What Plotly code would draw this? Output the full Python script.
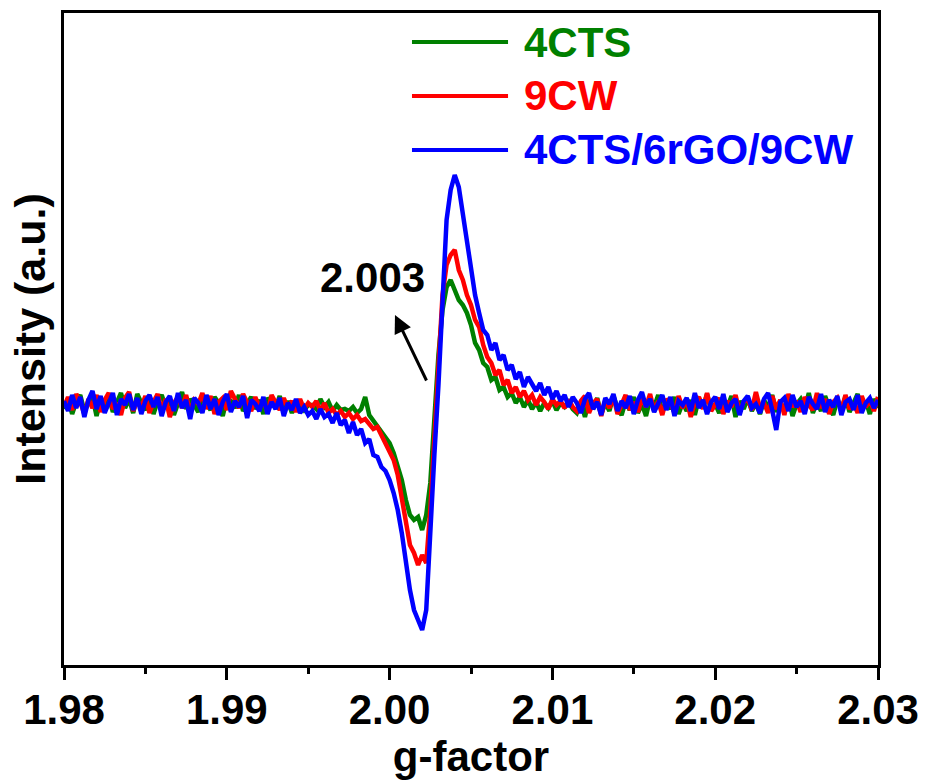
import numpy as np
import plotly.graph_objects as go

# g-factor grid: 1.980 -> 2.030 in steps of 0.00025 (201 points)
g_start, g_stop, n_pts = 1.98, 2.03, 201
g = np.linspace(g_start, g_stop, n_pts)

cts4 = [-4, 6, -9, 3, 10, -6, 2, 8, -11, 5, 1, 9, -7, 4, 12, -3, 6, -8, 11, 2,
        -5, 7, -9, 4, 10, -2, 5, -10, 3, 13, -4, 6, 0, -7, 9, 3, -5, 8, 2, -11,
        6, 4, -3, 10, -6, 1, 8, -4, 5, -9, 7, 2, -3, 9, -6, 4, -8, 3, 1, -5, 0,
        0, -4, 6, -2, 3, -6, 0, -5, -4, -6, -2, -8, -4, 8, -10,
        -16, -22, -28, -32, -38, -48, -60, -75, -95, -110, -115, -112, -125, -110, -78,
        -15, 50, 95, 118, 125, 115, 105, 100, 92, 80, 62, 55, 42, 38, 25,
        28, 15, 18, 8, 12, 2, 8, -2, 5, -4, 3, -6, 2, -3, 4, -5, 2, -2, 3, -4,
        -8, 3, -12, 5, -4, 7, -9, 2, -6, 9, -3, -10, 4, -5, 8, -8, 1, -11, 6, -2,
        10, -7, 3, -4, 8, -9, 2, -6, 5, -10, 7, -3, 11, -5, 1, -8, 6, -2, 9, -12,
        4, -4, 7, -6, 2, -9, 5, -3, 10, -7, 3, -5, 8, -11, 1, 6, -4, 12, -8, 3,
        -6, 9, -2, -10, 5, -4, 8, -7, 2, 11, -5, 4, -9, 6, -3]

cw9 = [-2, 8, -5, 11, 3, -9, 6, -3, 10, -7, 5, 12, -4, 2, -10, 7, 13, -6, 4, -2,
       9, -8, 3, 11, -5, 6, -12, 2, 8, -3, 10, -7, 5, 1, 12, -4, 9, -9, 3, 7,
       -5, 14, 6, -3, 11, 2, -6, 8, -2, 5, -8, 10, 3, -5, 7, -3, 4, -7, 6, -4, 2,
       -2, 4, -6, 2, -8, -4, -10, -6, -12, -8, -14, -10, -16, -14, -20,
       -24, -22, -30, -38, -45, -55, -70, -92, -115, -140, -148, -160, -150, -158, -105,
       -30, 40, 110, 140, 150, 155, 135, 125, 110, 100, 85, 78, 60, 48, 42,
       30, 35, 20, 25, 12, 18, 8, 14, 5, 10, 0, 8, 3, -4, 6, 0, 4, -3, 5, -2,
       -6, 4, 9, -8, 2, 6, -11, 5, -3, 8, -9, 1, 10, -5, 3, -7, 7, -2, 11, -6,
       4, -10, 6, 2, -8, 9, -3, 5, -12, 3, 8, -4, 12, -6, 1, 7, -9, 4, -2, 10,
       -7, 3, 6, -5, 13, -3, 2, -8, 9, -4, 5, -10, 11, -2, 4, -7, 8, 0, -5, 12,
       -3, 6, -9, 3, 7, -6, 10, -4, 2, -8, 9, -2, 5, -6, 8]

composite = [4, -6, 10, -3, 8, -12, 5, 14, -4, 9, -8, 3, 12, -10, 6, 0, 11, -5, 7, -9,
             4, 10, -2, 8, -11, 3, 9, -6, 12, -3, 5, -14, 7, 2, -8, 10, -4, 6, -10, 3,
             11, -7, 4, -2, 9, -13, 5, 1, -6, 8, -9, 3, -4, 7, -11, 2, -5, 6, -8, -2, -10,
             -6, -14, -4, -12, -9, -18, -8, -20, -15, -28, -17, -30, -24, -38, -34,
             -50, -52, -62, -66, -75, -88, -105, -128, -160, -185, -205, -215, -225, -205, -120,
             -50, 20, 110, 185, 215, 230, 218, 190, 160, 138, 110, 92, 75, 70, 55,
             62, 45, 50, 35, 40, 26, 33, 18, 28, 20, 14, 22, 10, 18, 6, 14, 4, 10, -2, 8,
             2, -8, 6, 12, -4, 3, -10, 7, 1, 11, -6, 4, -3, 9, -9, 5, 13, -2, 6, -7,
             2, 10, -5, 8, -11, 4, 0, 7, -6, 12, -3, 5, -9, 3, 8, -4, 11, -7, 2, 6,
             -10, 4, 9, -3, 1, -8, 6, 12, -5, -25, 3, 7, -6, 10, -2, 4, -9, 8, 1, -4,
             11, -7, 5, -2, 9, -10, 3, 6, -5, 10, -8, 2, 7, -3, 5]

series_names = ["4CTS", "9CW", "4CTS/6rGO/9CW"]
series_values = [cts4, cw9, composite]
series_colors = ["#008000", "#ff0000", "#0000ff"]

x_ticks = [1.98, 1.99, 2.00, 2.01, 2.02, 2.03]
x_tick_labels = ["1.98", "1.99", "2.00", "2.01", "2.02", "2.03"]

# annotation: arrow near the zero-crossing
g_label = "2.003"
arrow_tail = (2.00231, 23)
arrow_tip = (2.00033, 90)
label_pos = (1.99892, 128)

FONT = "Liberation Sans, Arial, Helvetica, sans-serif"

fig = go.Figure()
for name, vals, col in zip(series_names, series_values, series_colors):
    fig.add_trace(go.Scatter(x=g, y=vals, mode="lines", name=name, showlegend=False,
                             line=dict(color=col, width=4.5)))

# legend drawn in paper coordinates (long sample lines like the original)
leg_x0, leg_x1, leg_text_x = 0.4275, 0.5455, 0.5627
leg_rows = [0.9555, 0.8727, 0.7899]
for name, col, yy in zip(series_names, series_colors, leg_rows):
    fig.add_shape(type="line", xref="paper", yref="paper", x0=leg_x0, x1=leg_x1, y0=yy, y1=yy,
                  line=dict(color=col, width=4))
    fig.add_annotation(xref="paper", yref="paper", x=leg_text_x, y=yy, xanchor="left", yanchor="middle",
                       text="<b>%s</b>" % name, showarrow=False,
                       font=dict(family=FONT, size=42, color=col))

fig.add_annotation(x=arrow_tip[0], y=arrow_tip[1], ax=arrow_tail[0], ay=arrow_tail[1],
                   axref="x", ayref="y", xref="x", yref="y", text="",
                   showarrow=True, arrowhead=2, arrowsize=1.2, arrowwidth=3,
                   arrowcolor="black")
fig.add_annotation(x=label_pos[0], y=label_pos[1], xref="x", yref="y", text="<b>" + g_label + "</b>",
                   showarrow=False, font=dict(family=FONT, size=42, color="black"))

fig.update_layout(
    width=925, height=781,
    margin=dict(l=64, r=47, t=13, b=116, autoexpand=False),
    paper_bgcolor="white", plot_bgcolor="white",
    showlegend=False,
    xaxis=dict(range=[g_start, g_stop], tickvals=x_ticks, ticktext=["<b>%s</b>" % t for t in x_tick_labels],
               ticks="outside", ticklen=12, tickwidth=3, tickcolor="black",
               minor=dict(dtick=0.005, ticks="outside", ticklen=6, tickwidth=3, tickcolor="black"),
               showline=True, linewidth=3, linecolor="black", mirror=True,
               showgrid=False, zeroline=False, automargin=False,
               ticklabelstandoff=-6,
               tickfont=dict(family=FONT, size=42, color="black"),
               title=dict(text="<b>g-factor</b>", font=dict(family=FONT, size=42, color="black"), standoff=2)),
    yaxis=dict(range=[-260, 392], showticklabels=False, ticks="",
               showline=True, linewidth=3, linecolor="black", mirror=True,
               showgrid=False, zeroline=False, automargin=False,
               title=dict(text="<b>Intensity (a.u.)</b>", font=dict(family=FONT, size=43, color="black"), standoff=2)),
)

fig.write_html("out.html")
